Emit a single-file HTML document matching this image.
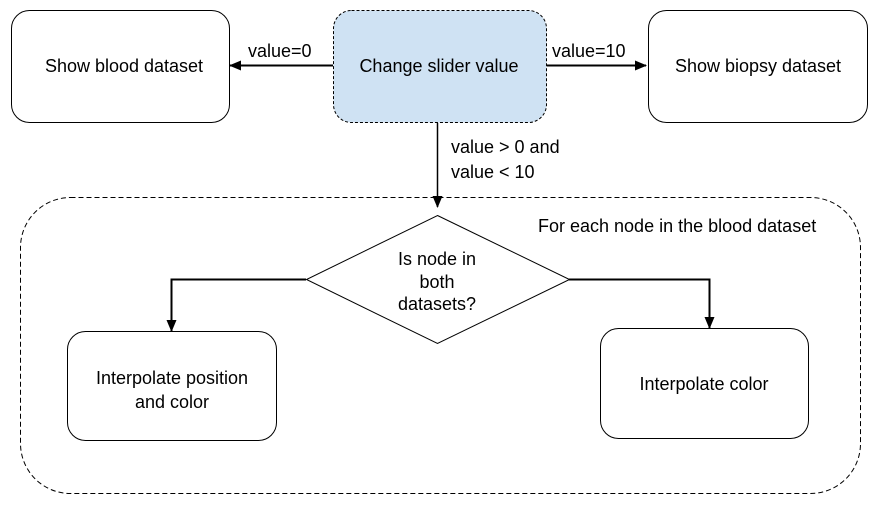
<!DOCTYPE html>
<html><head><style>body{margin:0;background:#fff}</style></head><body>
<svg width="879" height="507" xmlns="http://www.w3.org/2000/svg" font-family="Liberation Sans, sans-serif" font-size="18" fill="#000">
<defs><marker id="a" markerWidth="12" markerHeight="10" refX="11" refY="5" orient="auto" markerUnits="userSpaceOnUse"><path d="M0,0 L12,5 L0,10 z" fill="#000"/></marker></defs>
<rect x="11.5" y="10.5" width="218" height="112" rx="18" fill="#fff" stroke="#000"/>
<rect x="333.5" y="10.5" width="213" height="112" rx="18" fill="#cfe2f3" stroke="#000" stroke-dasharray="3,2"/>
<rect x="648.5" y="10.5" width="219" height="112" rx="18" fill="#fff" stroke="#000"/>
<text x="124" y="72" text-anchor="middle">Show blood dataset</text>
<text x="439" y="72" text-anchor="middle">Change slider value</text>
<text x="758" y="72" text-anchor="middle">Show biopsy dataset</text>
<line x1="333" y1="65.5" x2="230" y2="65.5" stroke="#000" stroke-width="2" marker-end="url(#a)"/>
<line x1="547" y1="65.5" x2="646" y2="65.5" stroke="#000" stroke-width="2" marker-end="url(#a)"/>
<text x="248" y="57">value=0</text>
<text x="552" y="57">value=10</text>
<line x1="437.5" y1="123" x2="437.5" y2="207" stroke="#000" stroke-width="1.5" marker-end="url(#a)"/>
<text x="451" y="153">value &gt; 0 and</text>
<text x="451" y="178">value &lt; 10</text>
<rect x="20.5" y="197.5" width="840" height="296" rx="50" fill="none" stroke="#000" stroke-dasharray="5,3"/>
<text x="538" y="232">For each node in the blood dataset</text>
<polygon points="437.5,215.5 569.5,279.5 437.5,343.5 306.5,279.5" fill="#fff" stroke="#000"/>
<text x="437" y="265" text-anchor="middle">Is node in</text>
<text x="437" y="288" text-anchor="middle">both</text>
<text x="437" y="310" text-anchor="middle">datasets?</text>
<polyline points="306,279.5 171.5,279.5 171.5,331" fill="none" stroke="#000" stroke-width="2" marker-end="url(#a)"/>
<polyline points="569,279.5 709.5,279.5 709.5,328" fill="none" stroke="#000" stroke-width="2" marker-end="url(#a)"/>
<rect x="67.5" y="331.5" width="209" height="109" rx="18" fill="#fff" stroke="#000"/>
<rect x="600.5" y="328.5" width="208" height="110" rx="18" fill="#fff" stroke="#000"/>
<text x="172" y="384" text-anchor="middle">Interpolate position</text>
<text x="172" y="408" text-anchor="middle">and color</text>
<text x="704" y="390" text-anchor="middle">Interpolate color</text>
</svg>
</body></html>
